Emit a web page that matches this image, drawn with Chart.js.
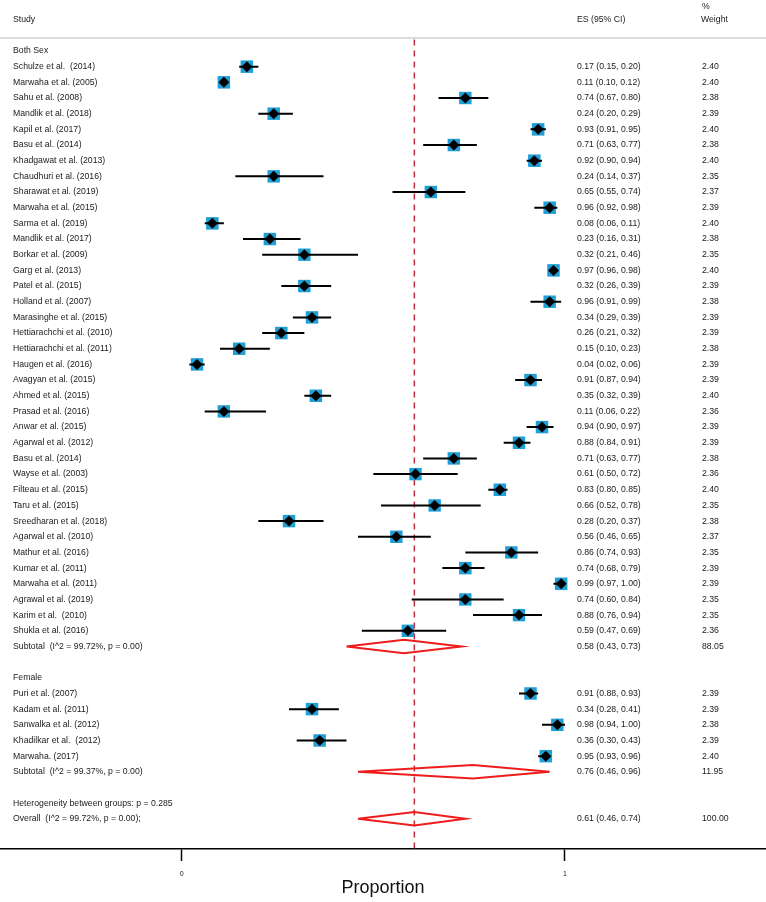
<!DOCTYPE html>
<html>
<head>
<meta charset="utf-8">
<script src="https://cdn.jsdelivr.net/npm/chart.js@4.4.1/dist/chart.umd.min.js"></script>
<style>
  html, body { margin: 0; padding: 0; background: #fff; }
</style>
</head>
<body>
<canvas id="forest" width="766" height="902"></canvas>
<script>
// ---- data ----
const bothStudies = ['Schulze et al.  (2014)', 'Marwaha et al. (2005)', 'Sahu et al. (2008)', 'Mandlik et al. (2018)',
  'Kapil et al. (2017)', 'Basu et al. (2014)', 'Khadgawat et al. (2013)', 'Chaudhuri et al. (2016)',
  'Sharawat et al. (2019)', 'Marwaha et al. (2015)', 'Sarma et al. (2019)', 'Mandlik et al. (2017)',
  'Borkar et al. (2009)', 'Garg et al. (2013)', 'Patel et al. (2015)', 'Holland et al. (2007)',
  'Marasinghe et al. (2015)', 'Hettiarachchi et al. (2010)', 'Hettiarachchi et al. (2011)', 'Haugen et al. (2016)',
  'Avagyan et al. (2015)', 'Ahmed et al. (2015)', 'Prasad et al. (2016)', 'Anwar et al. (2015)',
  'Agarwal et al. (2012)', 'Basu et al. (2014)', 'Wayse et al. (2003)', 'Filteau et al. (2015)',
  'Taru et al. (2015)', 'Sreedharan et al. (2018)', 'Agarwal et al. (2010)', 'Mathur et al. (2016)',
  'Kumar et al. (2011)', 'Marwaha et al. (2011)', 'Agrawal et al. (2019)', 'Karim et al.  (2010)',
  'Shukla et al. (2016)'];
const bothES = [0.17, 0.11, 0.74, 0.24, 0.93, 0.71, 0.92, 0.24, 0.65, 0.96, 0.08, 0.23, 0.32, 0.97, 0.32, 0.96, 0.34, 0.26, 0.15,
  0.04, 0.91, 0.35, 0.11, 0.94, 0.88, 0.71, 0.61, 0.83, 0.66, 0.28, 0.56, 0.86, 0.74, 0.99, 0.74, 0.88, 0.59];
const bothLo = [0.15, 0.10, 0.67, 0.20, 0.91, 0.63, 0.90, 0.14, 0.55, 0.92, 0.06, 0.16, 0.21, 0.96, 0.26, 0.91, 0.29, 0.21, 0.10,
  0.02, 0.87, 0.32, 0.06, 0.90, 0.84, 0.63, 0.50, 0.80, 0.52, 0.20, 0.46, 0.74, 0.68, 0.97, 0.60, 0.76, 0.47];
const bothHi = [0.20, 0.12, 0.80, 0.29, 0.95, 0.77, 0.94, 0.37, 0.74, 0.98, 0.11, 0.31, 0.46, 0.98, 0.39, 0.99, 0.39, 0.32, 0.23,
  0.06, 0.94, 0.39, 0.22, 0.97, 0.91, 0.77, 0.72, 0.85, 0.78, 0.37, 0.65, 0.93, 0.79, 1.00, 0.84, 0.94, 0.69];
const bothW = [2.40, 2.40, 2.38, 2.39, 2.40, 2.38, 2.40, 2.35, 2.37, 2.39, 2.40, 2.38, 2.35, 2.40, 2.39, 2.38, 2.39, 2.39, 2.38,
  2.39, 2.39, 2.40, 2.36, 2.39, 2.39, 2.38, 2.36, 2.40, 2.35, 2.38, 2.37, 2.35, 2.39, 2.39, 2.35, 2.35, 2.36];

const femaleStudies = ['Puri et al. (2007)', 'Kadam et al. (2011)', 'Sanwalka et al. (2012)', 'Khadilkar et al.  (2012)', 'Marwaha. (2017)'];
const femaleES = [0.91, 0.34, 0.98, 0.36, 0.95];
const femaleLo = [0.88, 0.28, 0.94, 0.30, 0.93];
const femaleHi = [0.93, 0.41, 1.00, 0.43, 0.96];
const femaleW = [2.39, 2.39, 2.38, 2.39, 2.40];

const subLabels = ['Subtotal  (I^2 = 99.72%, p = 0.00)', 'Subtotal  (I^2 = 99.37%, p = 0.00)'];
const subES = [0.58, 0.76];
const subLo = [0.43, 0.46];
const subHi = [0.73, 0.96];
const subW = [88.05, 11.95];

const overallLabel = 'Overall  (I^2 = 99.72%, p = 0.00);';
const overallES = 0.607;
const overallLo = 0.46;
const overallHi = 0.74;
const overallW = 100.00;
const hetLabel = 'Heterogeneity between groups: p = 0.285';

const xTicks = [0, 1];

// ---- row layout (row index, top to bottom) ----
const bothRows = bothStudies.map((_, i) => 1 + i);
const sub1Row = bothRows[bothRows.length - 1] + 1;
const femaleHead = sub1Row + 2;
const femaleRows = femaleStudies.map((_, i) => femaleHead + 1 + i);
const sub2Row = femaleRows[femaleRows.length - 1] + 1;
const hetRow = sub2Row + 2;
const overallRow = hetRow + 1;

const XMIN = -0.474, XMAX = 1.5244;
const YMIN = -3.2546, YMAX = 50.925;
const HEADER_LINE = -0.83;

const allES = bothES.concat(femaleES);
const allLo = bothLo.concat(femaleLo);
const allHi = bothHi.concat(femaleHi);
const allW = bothW.concat(femaleW);
const allRows = bothRows.concat(femaleRows);

const fmt = (e, l, h) => e.toFixed(2) + ' (' + l.toFixed(2) + ', ' + h.toFixed(2) + ')';

// text lines for the table columns
const textRows = [{ r: 0, label: 'Both Sex' }];
bothStudies.forEach((s, i) => textRows.push({ r: bothRows[i], label: s, es: fmt(bothES[i], bothLo[i], bothHi[i]), w: bothW[i].toFixed(2) }));
textRows.push({ r: sub1Row, label: subLabels[0], es: fmt(subES[0], subLo[0], subHi[0]), w: subW[0].toFixed(2) });
textRows.push({ r: femaleHead, label: 'Female' });
femaleStudies.forEach((s, i) => textRows.push({ r: femaleRows[i], label: s, es: fmt(femaleES[i], femaleLo[i], femaleHi[i]), w: femaleW[i].toFixed(2) }));
textRows.push({ r: sub2Row, label: subLabels[1], es: fmt(subES[1], subLo[1], subHi[1]), w: subW[1].toFixed(2) });
textRows.push({ r: hetRow, label: hetLabel });
textRows.push({ r: overallRow, label: overallLabel, es: fmt(overallES, overallLo, overallHi), w: overallW.toFixed(2) });

// confidence interval segments, separated by gaps
const ciData = [];
allRows.forEach((r, i) => {
  ciData.push({ x: allLo[i], y: r }, { x: allHi[i], y: r }, { x: null, y: null });
});

// pooled diamonds
const DH = 0.43;
const pooled = [
  [subLo[0], subES[0], subHi[0], sub1Row],
  [subLo[1], subES[1], subHi[1], sub2Row],
  [overallLo, overallES, overallHi, overallRow]
];
const diamondData = [];
pooled.forEach(([l, e, h, r]) => {
  diamondData.push({ x: l, y: r }, { x: e, y: r - DH }, { x: h, y: r }, { x: e, y: r + DH }, { x: l, y: r }, { x: null, y: null });
});

const FONT = "'Liberation Sans', Arial, Helvetica, sans-serif";
Chart.defaults.font.family = FONT;

const tablePlugin = {
  id: 'tableText',
  afterDraw(chart) {
    const ctx = chart.ctx;
    const y = chart.scales.y;
    ctx.save();
    ctx.fillStyle = '#1a1a1a';
    ctx.font = '8.7px ' + FONT;
    ctx.textBaseline = 'middle';
    ctx.textAlign = 'left';
    ctx.fillText('Study', 13, y.getPixelForValue(-2));
    ctx.fillText('ES (95% CI)', 577, y.getPixelForValue(-2));
    ctx.fillText('%', 702, y.getPixelForValue(-2.83));
    ctx.fillText('Weight', 701, y.getPixelForValue(-2));
    textRows.forEach(t => {
      const py = y.getPixelForValue(t.r);
      ctx.fillText(t.label, 13, py);
      if (t.es) ctx.fillText(t.es, 577, py);
      if (t.w) ctx.fillText(t.w, 702, py);
    });
    ctx.restore();
  }
};

new Chart(document.getElementById('forest'), {
  type: 'scatter',
  data: {
    datasets: [
      {
        // header rule
        data: [{ x: XMIN, y: HEADER_LINE }, { x: XMAX, y: HEADER_LINE }],
        showLine: true, borderColor: '#cfcfcf', borderWidth: 1.5, pointRadius: 0, order: 6
      },
      {
        // overall effect reference line
        data: [{ x: overallES, y: HEADER_LINE + 0.1 }, { x: overallES, y: YMAX }],
        showLine: true, borderColor: '#b8303f', borderWidth: 1.5, borderDash: [6, 5], pointRadius: 0, order: 5
      },
      {
        // study weight boxes
        data: allRows.map((r, i) => ({ x: allES[i], y: r })),
        pointStyle: 'rect',
        pointRadius: allW.map(w => 8.84 * Math.sqrt(w / 2.4)),
        backgroundColor: '#1f9fd6', borderWidth: 0, order: 4
      },
      {
        data: ciData,
        showLine: true, spanGaps: false, borderColor: '#000', borderWidth: 2, pointRadius: 0, order: 3
      },
      {
        data: diamondData,
        showLine: true, spanGaps: false, borderColor: '#ee1c1c', borderWidth: 2, pointRadius: 0,
        borderJoinStyle: 'miter', fill: false, order: 2
      },
      {
        // point estimates
        data: allRows.map((r, i) => ({ x: allES[i], y: r })),
        pointStyle: 'rectRot', pointRadius: 5.5, backgroundColor: '#000', borderWidth: 0, order: 1
      }
    ]
  },
  options: {
    responsive: false,
    devicePixelRatio: 1,
    animation: false,
    events: [],
    layout: { padding: 0, autoPadding: false },
    plugins: { legend: { display: false }, tooltip: { enabled: false } },
    scales: {
      x: {
        type: 'linear', min: XMIN, max: XMAX,
        afterBuildTicks: s => { s.ticks = xTicks.map(v => ({ value: v })); },
        afterFit: s => { s.height = 53; },
        ticks: { font: { size: 7 }, color: '#222', padding: 9, maxRotation: 0, callback: v => v },
        grid: { drawOnChartArea: false, drawTicks: true, tickLength: 12, tickWidth: 1.5, tickColor: '#000' },
        border: { color: '#000', width: 1.5 },
        title: { display: true, text: 'Proportion', color: '#111', font: { size: 18 }, padding: { top: 0, bottom: 3 } }
      },
      y: { type: 'linear', reverse: true, min: YMIN, max: YMAX, display: false }
    }
  },
  plugins: [tablePlugin]
});
</script>
</body>
</html>
